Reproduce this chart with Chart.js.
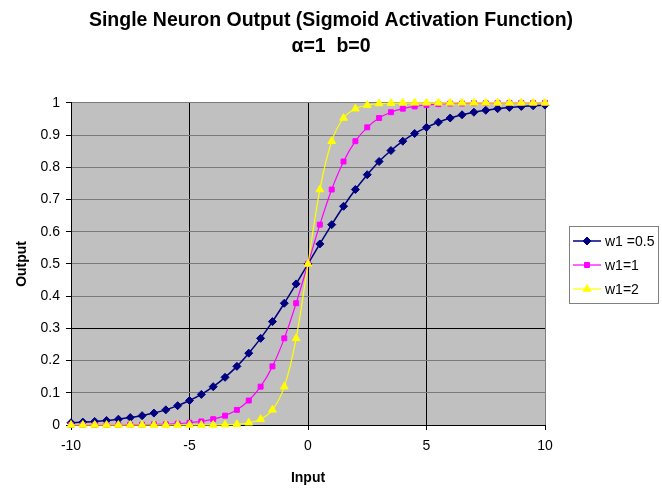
<!DOCTYPE html>
<html><head><meta charset="utf-8">
<script src="https://cdn.jsdelivr.net/npm/chart.js@4.4.0/dist/chart.umd.min.js"></script>
<style>html,body{margin:0;padding:0;background:#fff}#wrap{width:662px;height:493px}</style>
</head><body><div id="wrap"><canvas id="c" width="662" height="493"></canvas></div>
<script>
const inputs = [-10,-9.5,-9,-8.5,-8,-7.5,-7,-6.5,-6,-5.5,-5,-4.5,-4,-3.5,-3,-2.5,-2,-1.5,-1,-0.5,0,0.5,1,1.5,2,2.5,3,3.5,4,4.5,5,5.5,6,6.5,7,7.5,8,8.5,9,9.5,10];
const outW05 = [0.007,0.009,0.011,0.014,0.018,0.023,0.029,0.037,0.047,0.060,0.076,0.095,0.119,0.148,0.182,0.223,0.269,0.321,0.378,0.438,0.5,0.562,0.622,0.679,0.731,0.777,0.818,0.852,0.881,0.905,0.924,0.940,0.953,0.963,0.971,0.977,0.982,0.986,0.989,0.991,0.993];
const outW1 = [0.000,0.000,0.000,0.000,0.000,0.001,0.001,0.002,0.002,0.004,0.007,0.011,0.018,0.029,0.047,0.076,0.119,0.182,0.269,0.378,0.5,0.622,0.731,0.818,0.881,0.924,0.953,0.971,0.982,0.989,0.993,0.996,0.998,0.998,0.999,0.999,1.000,1.000,1.000,1.000,1.000];
const outW2 = [0.000,0.000,0.000,0.000,0.000,0.000,0.000,0.000,0.000,0.000,0.000,0.000,0.000,0.001,0.002,0.007,0.018,0.047,0.119,0.269,0.5,0.731,0.881,0.953,0.982,0.993,0.998,0.999,1.000,1.000,1.000,1.000,1.000,1.000,1.000,1.000,1.000,1.000,1.000,1.000,1.000];
const seriesLabels = ['w1 =0.5','w1=1','w1=2'];
const xTicks = [-10,-5,0,5,10];
const yTicks = [0,0.1,0.2,0.3,0.4,0.5,0.6,0.7,0.8,0.9,1];
const titleLines = ['Single Neuron Output (Sigmoid Activation Function)','α=1  b=0'];

const FONT = "'Liberation Sans', Arial, sans-serif";
const pts = arr => arr.map((y,i)=>({x:inputs[i], y}));

const bgPlugin = {
  id:'bg',
  beforeDraw(chart){
    const {ctx, chartArea:a} = chart;
    ctx.save();
    ctx.fillStyle='#fff'; ctx.fillRect(0,0,chart.width,chart.height);
    ctx.fillStyle='#c0c0c0'; ctx.fillRect(a.left,a.top,a.right-a.left,a.bottom-a.top);
    ctx.restore();
  }
};
const legendPlugin = {
  id:'customLegend',
  afterDraw(chart){
    const ctx = chart.ctx;
    const bx=569, by=226, bw=89, bh=77;
    ctx.save();
    ctx.fillStyle='#fff'; ctx.fillRect(bx,by,bw,bh);
    ctx.strokeStyle='#808080'; ctx.lineWidth=1; ctx.strokeRect(bx+0.5,by+0.5,bw,bh);
    ctx.font = '14px '+FONT; ctx.textBaseline='middle';
    chart.data.datasets.forEach((ds,i)=>{
      const y = by+15+i*24;
      ctx.strokeStyle=ds.borderColor; ctx.lineWidth=ds.borderWidth;
      ctx.beginPath(); ctx.moveTo(bx+4,y); ctx.lineTo(bx+32,y); ctx.stroke();
      ctx.fillStyle=ds.backgroundColor; ctx.strokeStyle=ds.borderColor; ctx.lineWidth=1;
      Chart.helpers.drawPoint(ctx,{pointStyle:ds.pointStyle,radius:ds.pointRadius,borderWidth:1,rotation:0},bx+18,y);
      ctx.fillStyle='#000';
      ctx.fillText(ds.label,bx+36,y+1);
    });
    ctx.restore();
  }
};

new Chart(document.getElementById('c'),{
  type:'line',
  data:{datasets:[
    {label:seriesLabels[0],data:pts(outW05),borderColor:'#000080',backgroundColor:'#000080',borderWidth:1.5,pointStyle:'rectRot',pointRadius:4,pointBorderWidth:1,order:2,clip:false},
    {label:seriesLabels[1],data:pts(outW1),borderColor:'#ff00ff',backgroundColor:'#ff00ff',borderWidth:1.2,pointStyle:'rect',pointRadius:3.5,pointBorderWidth:1,order:1,clip:false},
    {label:seriesLabels[2],data:pts(outW2),borderColor:'#ffff00',backgroundColor:'#ffff00',borderWidth:1.2,pointStyle:'triangle',pointRadius:4.5,pointBorderWidth:1,order:0,clip:false}
  ]},
  options:{
    responsive:false, animation:false, devicePixelRatio:1,
    layout:{padding:{top:0,right:0,bottom:0,left:0}},
    plugins:{
      legend:{display:false}, tooltip:{enabled:false},
      title:{display:true,text:titleLines,color:'#000',font:{family:FONT,size:19.5,weight:'bold',lineHeight:1.33},padding:{top:8,bottom:43}}
    },
    elements:{line:{tension:0.3}},
    scales:{
      x:{type:'linear',min:-10,max:10,
        afterBuildTicks:s=>{s.ticks=xTicks.map(v=>({value:v}));},
        afterFit:s=>{s.height=68;},
        ticks:{color:'#000',font:{family:FONT,size:14},padding:8,maxRotation:0},
        grid:{color:c=>[-5,0,5].includes(c.tick.value)?'#000':(c.tick.value===10?'#808080':'rgba(0,0,0,0)'),lineWidth:1,tickColor:'#000',tickLength:5},
        border:{color:'#000',width:1},
        title:{display:true,text:'Input',color:'#000',font:{family:FONT,size:14,weight:'bold'},padding:{top:4,bottom:6}}
      },
      y:{min:0,max:1,
        afterBuildTicks:s=>{s.ticks=yTicks.map(v=>({value:v}));},
        afterFit:s=>{s.width=71;},
        ticks:{color:'#000',font:{family:FONT,size:14},padding:6,callback:v=>String(v)},
        grid:{color:c=>c.tick.value===0.3?'#000':(c.tick.value===0?'rgba(0,0,0,0)':'#7a7a7a'),lineWidth:1,tickColor:'#000',tickLength:5},
        border:{color:'#000',width:1},
        title:{display:true,text:'Output',color:'#000',font:{family:FONT,size:14,weight:'bold'},padding:{top:14,bottom:0}}
      },
      yRight:{position:'right',min:0,max:1,display:true,
        afterFit:s=>{s.width=117;},
        ticks:{display:false},grid:{display:false,drawTicks:false},border:{display:false},title:{display:false}
      }
    }
  },
  plugins:[bgPlugin,legendPlugin]
});
</script></body></html>
